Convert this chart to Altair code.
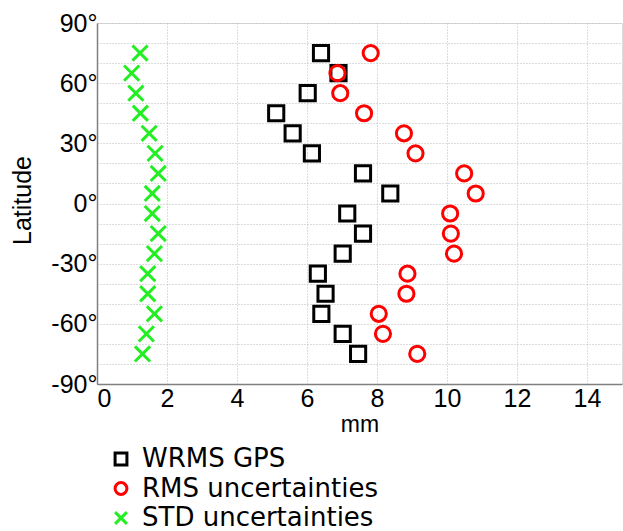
import altair as alt
import pandas as pd

latitudes = [75, 65, 55, 45, 35, 25, 15, 5, -5, -15, -25, -35, -45, -55, -65, -75]
wrms_gps = [6.40, 6.90, 6.02, 5.12, 5.59, 6.14, 7.60, 8.38, 7.15, 7.60, 7.02, 6.31, 6.53, 6.41, 7.02, 7.46]
rms_unc = [7.82, 6.87, 6.95, 7.63, 8.77, 9.10, 10.49, 10.82, 10.09, 10.11, 10.20, 8.87, 8.84, 8.05, 8.17, 9.15]
std_unc = [1.23, 0.99, 1.11, 1.24, 1.49, 1.66, 1.75, 1.58, 1.58, 1.75, 1.64, 1.45, 1.45, 1.64, 1.41, 1.30]

series_names = ["WRMS GPS", "RMS uncertainties", "STD uncertainties"]
series_colors = ["#000000", "#ff0000", "#22ee22"]
x_path = "M-1,-1L1,1M1,-1L-1,1"
series_shapes = ["square", "circle", x_path]

rows = []
for name, vals in zip(series_names, [wrms_gps, rms_unc, std_unc]):
    for lat, v in zip(latitudes, vals):
        rows.append({"series": name, "lat": lat, "mm": v})
df = pd.DataFrame(rows)

font = "Liberation Sans"

chart = (
    alt.Chart(df)
    .mark_point(filled=False, size=230, strokeWidth=3, opacity=1)
    .encode(
        x=alt.X(
            "mm:Q",
            title="mm",
            scale=alt.Scale(domain=[0, 15], nice=False),
            axis=alt.Axis(
                values=[0, 2, 4, 6, 8, 10, 12, 14],
                grid=True,
                gridDash=[1, 2],
                gridColor="#bbbbbb",
                ticks=False,
                tickSize=0,
                labelPadding=2,
                labelFontSize=25,
                labelFont=font,
                labelColor="#000000",
                titleFont=font,
                titleFontSize=23,
                titleFontWeight="normal",
                titleColor="#000000",
                titleBaseline="middle",
                titleY=40,
                domainColor="#808080",
                domainWidth=1.5,
            ),
        ),
        y=alt.Y(
            "lat:Q",
            title="Latitude",
            scale=alt.Scale(domain=[-90, 90], nice=False),
            axis=alt.Axis(
                values=list(range(-90, 91, 10)),
                labelExpr="datum.value % 30 == 0 ? datum.value + '°' : ''",
                grid=True,
                gridDash=[1, 2],
                gridColor="#bbbbbb",
                ticks=False,
                tickSize=0,
                labelPadding=0,
                labelFontSize=25,
                labelFont=font,
                labelColor="#000000",
                labelOverlap=False,
                titleFont=font,
                titleFontSize=25,
                titleFontWeight="normal",
                titleColor="#000000",
                titleAngle=-90,
                titleAlign="center",
                titleBaseline="middle",
                titleX=-75,
                titleY=177,
                domainColor="#808080",
                domainWidth=1.5,
            ),
        ),
        color=alt.Color(
            "series:N",
            scale=alt.Scale(domain=series_names, range=series_colors),
            legend=alt.Legend(
                title=None,
                orient="none",
                legendX=11,
                legendY=423,
                labelFont="DejaVu Sans",
                labelFontSize=26,
                labelColor="#000000",
                labelOffset=8,
                labelLimit=400,
                symbolSize=140,
                symbolStrokeWidth=3,
                rowPadding=3.5,
                padding=0,
            ),
        ),
        shape=alt.Shape(
            "series:N",
            scale=alt.Scale(domain=series_names, range=series_shapes),
        ),
    )
    .properties(
        width=525,
        height=361,
        autosize="none",
        padding={"left": 97, "top": 23, "right": 1, "bottom": 147},
    )
    .configure_view(stroke="#808080", strokeWidth=1.5)
    .configure(background="white")
)

chart.save("out.html", embed_options={"renderer": "svg", "actions": False})
